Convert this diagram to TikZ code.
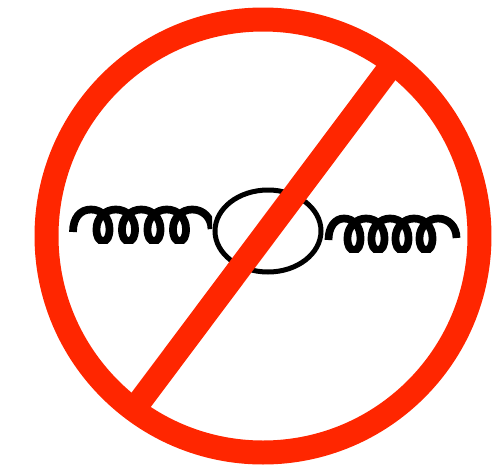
\documentclass[tikz,border=0pt]{standalone}
\usepackage{xcolor}
\definecolor{signred}{RGB}{255,38,0}
\begin{document}
\begin{tikzpicture}[
    x=0.02cm, y=-0.02cm,
    coil/.style={draw=black, line width=0.155cm},
    loopline/.style={draw=black, line width=0.1cm},
    sign/.style={draw=signred, line width=0.48cm}
  ]
    \useasboundingbox (0,0) rectangle (498,468);
    % left gluon
    \begin{scope}
      \clip (60,190) rectangle (212,243);
      \draw[coil] (73,232) .. controls (73,218) and (80,209.5) .. (91,209.5)
        .. controls (102,209.5) and (109.5,218) .. (109.5,229)
        .. controls (109.5,237) and (107,241) .. (103,241)
        \foreach \px in {103,128.5,154,179.5} {
          .. controls (\px-4,241) and (\px-6.5,237) .. (\px-6.5,229)
          .. controls (\px-6.5,218) and (\px+2,209.5) .. (\px+12.75,209.5)
          .. controls (\px+24,209.5) and (\px+32,218) .. (\px+32,229)
          \ifdim \px pt<179pt
            .. controls (\px+32,237) and (\px+29.5,241) .. (\px+25.5,241)
          \fi
        };
    \end{scope}
    % right gluon
    \begin{scope}
      \clip (320,205) rectangle (470,252);
      \draw[coil] (328.5,240) .. controls (328.5,227) and (335,218.5) .. (344,218.5)
        .. controls (354,218.5) and (360.5,227) .. (360.5,238)
        .. controls (360.5,246) and (358,250) .. (354,250)
        \foreach \px in {354,378,402,426} {
          .. controls (\px-4,250) and (\px-6.5,246) .. (\px-6.5,238)
          .. controls (\px-6.5,227) and (\px+2,218.5) .. (\px+12,218.5)
          .. controls (\px+23,218.5) and (\px+30.5,227) .. (\px+30.5,238)
          \ifdim \px pt<420pt
            .. controls (\px+30.5,246) and (\px+28,250) .. (\px+24,250)
          \fi
        };
    \end{scope}
    % loop
    \draw[loopline] (268,231) ellipse [x radius=53, y radius=41];
    % sign on top
    \draw[sign] (263,236) circle [radius=216.5];
    \draw[sign] (388,70) -- (138,404);
  \end{tikzpicture}
\end{document}
